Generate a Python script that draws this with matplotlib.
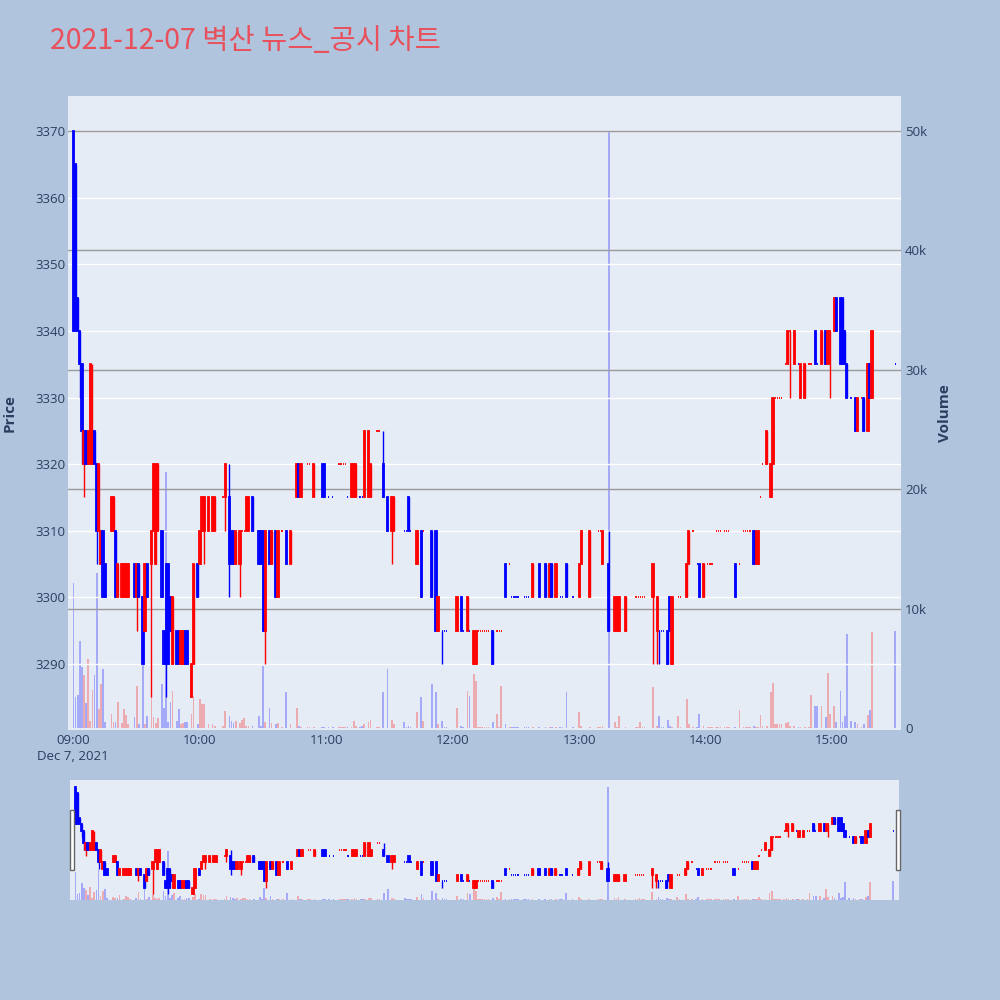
"""
Intraday 1-minute candle chart with volume and range slider
"""
import matplotlib
matplotlib.use("Agg")
import matplotlib.pyplot as plt
import matplotlib.transforms as mtransforms
from matplotlib.patches import Rectangle

################################################################################
# Data (minutes after 09:00, prices in KRW, volume in thousands)
################################################################################
minute = [
    0, 1, 2, 3, 4, 5, 6, 7, 8, 9, 10, 11, 12, 13, 14, 15, 18, 19, 20, 21,
    23, 24, 25, 26, 29, 30, 31, 33, 34, 35, 37, 38, 39, 40, 42, 43, 44, 45, 46, 47,
    49, 50, 51, 52, 53, 54, 56, 57, 59, 60, 61,
    62, 64, 66, 67, 71, 72, 74, 75, 76, 77, 79, 80, 81, 82, 83, 85, 88, 89, 90, 91,
    93, 94, 96, 97, 99, 101, 103, 106, 107, 108, 111, 112, 114, 118, 119, 121, 123, 126, 127,
    128, 129, 130, 132, 133, 134, 136, 137, 138, 140, 141, 144, 145, 147, 149, 151, 152, 157, 158, 159,
    160, 163, 165, 166, 170, 172, 173, 175, 176, 177, 182, 184, 185, 187, 188, 190, 191, 192, 193,
    194, 195, 196, 197, 199, 201, 202, 203, 205, 207, 208, 209, 210, 211, 214, 215, 216, 218, 221, 224,
    226, 227, 229, 231, 232, 234, 237, 240, 241, 245, 249, 250, 251, 254, 257, 258,
    259, 262, 267, 268, 269, 270, 271, 275, 277, 278, 279, 280, 282, 283, 284, 287, 288, 291, 292, 294,
    296, 297, 299, 301, 302, 303, 305, 306, 307, 309, 310, 311, 314, 316, 318, 319, 320, 321, 323,
    324, 325, 326, 327, 329, 331, 332, 333, 334, 335, 336, 338, 339, 340, 342, 344, 345, 347, 349, 350,
    352, 353, 355, 357, 358, 359, 361, 362, 364, 365, 366, 367, 369, 371, 372, 374, 375, 377, 378, 379,
    390]

open_ = [
    3370, 3365, 3345, 3340, 3335, 3320, 3325, 3320, 3320, 3320, 3325, 3320, 3310, 3305, 3310, 3305, 3310, 3310, 3310, 3300,
    3300, 3300, 3300, 3300, 3305, 3300, 3305, 3300, 3295, 3305, 3305, 3310, 3305, 3310, 3310, 3295, 3305, 3305, 3300, 3290,
    3295, 3295, 3290, 3290, 3295, 3295, 3285, 3290, 3305, 3305, 3310,
    3310, 3310, 3310, 3310, 3315, 3315, 3315, 3310, 3310, 3305, 3305, 3310, 3310, 3310, 3310, 3315, 3310, 3310, 3310, 3295,
    3310, 3305, 3310, 3300, 3310, 3310, 3305, 3315, 3320, 3315, 3320, 3320, 3315, 3320, 3320, 3315, 3315, 3320, 3320,
    3320, 3320, 3315, 3315, 3315, 3315, 3315, 3315, 3315, 3315, 3315, 3325, 3325, 3320, 3315, 3310, 3310, 3310, 3310, 3315,
    3310, 3305, 3310, 3310, 3310, 3310, 3295, 3295, 3295, 3295, 3295, 3300, 3295, 3295, 3295, 3290, 3290, 3295, 3295,
    3295, 3295, 3295, 3295, 3295, 3295, 3295, 3295, 3305, 3305, 3300, 3300, 3300, 3300, 3300, 3300, 3300, 3300, 3305, 3305,
    3300, 3305, 3300, 3300, 3300, 3305, 3300, 3300, 3305, 3300, 3310, 3310, 3305, 3305, 3295, 3295,
    3295, 3295, 3300, 3300, 3300, 3300, 3300, 3300, 3295, 3295, 3295, 3295, 3295, 3300, 3290, 3300, 3300, 3300, 3305, 3310,
    3305, 3305, 3300, 3305, 3305, 3305, 3310, 3310, 3310, 3310, 3310, 3310, 3305, 3305, 3310, 3310, 3310, 3310, 3310,
    3305, 3305, 3315, 3320, 3320, 3315, 3320, 3330, 3330, 3330, 3330, 3335, 3335, 3340, 3335, 3335, 3330, 3330, 3335, 3335,
    3340, 3335, 3335, 3340, 3335, 3340, 3340, 3345, 3345, 3345, 3340, 3335, 3330, 3330, 3325, 3330, 3330, 3325, 3335, 3330,
    3335]

high = [
    3370, 3365, 3345, 3340, 3335, 3325, 3325, 3325, 3335, 3335, 3325, 3320, 3320, 3310, 3310, 3305, 3315, 3315, 3310, 3305,
    3305, 3305, 3305, 3305, 3305, 3305, 3305, 3300, 3305, 3305, 3310, 3320, 3320, 3320, 3310, 3295, 3305, 3305, 3300, 3300,
    3295, 3295, 3295, 3295, 3295, 3295, 3290, 3305, 3305, 3310, 3315,
    3315, 3315, 3315, 3315, 3315, 3320, 3320, 3310, 3310, 3310, 3310, 3310, 3310, 3315, 3315, 3315, 3310, 3310, 3310, 3310,
    3310, 3310, 3310, 3310, 3310, 3310, 3310, 3320, 3320, 3320, 3320, 3320, 3320, 3320, 3320, 3315, 3315, 3320, 3320,
    3320, 3320, 3315, 3320, 3320, 3320, 3315, 3315, 3325, 3325, 3320, 3325, 3325, 3325, 3315, 3315, 3315, 3310, 3310, 3315,
    3310, 3310, 3310, 3310, 3310, 3310, 3300, 3295, 3295, 3295, 3300, 3300, 3295, 3300, 3295, 3295, 3295, 3295, 3295,
    3295, 3295, 3295, 3295, 3295, 3295, 3295, 3295, 3305, 3305, 3300, 3300, 3300, 3300, 3300, 3300, 3300, 3305, 3305, 3305,
    3305, 3305, 3305, 3300, 3300, 3305, 3300, 3305, 3310, 3310, 3310, 3310, 3310, 3310, 3300, 3300,
    3300, 3300, 3300, 3300, 3300, 3300, 3300, 3305, 3300, 3295, 3295, 3295, 3295, 3300, 3300, 3300, 3300, 3305, 3310, 3310,
    3305, 3305, 3305, 3305, 3305, 3305, 3310, 3310, 3310, 3310, 3310, 3310, 3305, 3305, 3310, 3310, 3310, 3310, 3310,
    3310, 3310, 3315, 3320, 3325, 3320, 3330, 3330, 3330, 3330, 3330, 3335, 3340, 3340, 3340, 3335, 3335, 3335, 3335, 3335,
    3340, 3335, 3340, 3340, 3340, 3340, 3345, 3345, 3345, 3345, 3340, 3335, 3330, 3330, 3330, 3330, 3330, 3335, 3335, 3340,
    3335]

low = [
    3340, 3340, 3340, 3330, 3320, 3315, 3320, 3320, 3320, 3320, 3320, 3305, 3310, 3305, 3300, 3300, 3310, 3310, 3300, 3300,
    3300, 3300, 3300, 3300, 3300, 3295, 3300, 3290, 3295, 3300, 3285, 3310, 3305, 3310, 3300, 3290, 3285, 3290, 3295, 3290,
    3290, 3290, 3290, 3290, 3290, 3290, 3285, 3290, 3300, 3305, 3310,
    3305, 3310, 3310, 3310, 3315, 3310, 3300, 3305, 3305, 3305, 3300, 3310, 3310, 3310, 3310, 3310, 3305, 3305, 3295, 3290,
    3305, 3305, 3300, 3300, 3310, 3305, 3305, 3315, 3315, 3315, 3320, 3320, 3315, 3315, 3315, 3315, 3315, 3320, 3320,
    3320, 3320, 3315, 3315, 3315, 3315, 3315, 3315, 3315, 3315, 3315, 3325, 3325, 3315, 3310, 3305, 3310, 3310, 3310, 3310,
    3310, 3305, 3300, 3310, 3300, 3295, 3295, 3290, 3295, 3295, 3295, 3295, 3295, 3295, 3295, 3290, 3290, 3295, 3295,
    3295, 3295, 3295, 3295, 3290, 3295, 3295, 3295, 3300, 3305, 3300, 3300, 3300, 3300, 3300, 3300, 3300, 3300, 3300, 3300,
    3300, 3300, 3300, 3300, 3300, 3300, 3300, 3300, 3305, 3300, 3310, 3310, 3305, 3295, 3295, 3295,
    3295, 3295, 3300, 3300, 3300, 3300, 3300, 3290, 3290, 3290, 3295, 3295, 3290, 3295, 3290, 3300, 3300, 3300, 3305, 3310,
    3305, 3300, 3300, 3305, 3305, 3305, 3310, 3310, 3310, 3310, 3310, 3310, 3300, 3305, 3310, 3310, 3310, 3310, 3305,
    3305, 3305, 3315, 3320, 3320, 3315, 3320, 3330, 3330, 3330, 3330, 3335, 3335, 3330, 3335, 3335, 3330, 3330, 3335, 3335,
    3335, 3335, 3335, 3335, 3335, 3330, 3340, 3340, 3335, 3335, 3335, 3330, 3330, 3325, 3325, 3330, 3325, 3325, 3330, 3330,
    3335]

close = [
    3340, 3340, 3340, 3335, 3325, 3325, 3320, 3325, 3335, 3325, 3320, 3310, 3320, 3310, 3300, 3300, 3315, 3315, 3300, 3305,
    3305, 3305, 3305, 3305, 3300, 3305, 3300, 3290, 3305, 3300, 3310, 3320, 3320, 3320, 3300, 3290, 3290, 3290, 3295, 3300,
    3290, 3290, 3295, 3295, 3290, 3290, 3290, 3305, 3300, 3310, 3315,
    3315, 3315, 3315, 3315, 3315, 3320, 3305, 3305, 3305, 3310, 3310, 3310, 3310, 3315, 3315, 3310, 3305, 3305, 3295, 3310,
    3305, 3310, 3300, 3310, 3310, 3305, 3310, 3320, 3315, 3320, 3320, 3320, 3320, 3315, 3315, 3315, 3315, 3320, 3320,
    3320, 3320, 3315, 3320, 3320, 3320, 3315, 3315, 3325, 3325, 3320, 3325, 3325, 3315, 3310, 3315, 3315, 3310, 3310, 3310,
    3310, 3310, 3300, 3310, 3300, 3295, 3300, 3295, 3295, 3295, 3300, 3295, 3295, 3300, 3295, 3295, 3295, 3295, 3295,
    3295, 3295, 3295, 3295, 3290, 3295, 3295, 3295, 3300, 3305, 3300, 3300, 3300, 3300, 3300, 3300, 3300, 3305, 3300, 3300,
    3305, 3300, 3305, 3300, 3300, 3300, 3300, 3305, 3310, 3310, 3310, 3310, 3310, 3295, 3300, 3300,
    3300, 3300, 3300, 3300, 3300, 3300, 3300, 3305, 3300, 3295, 3295, 3295, 3290, 3295, 3300, 3300, 3300, 3305, 3310, 3310,
    3305, 3300, 3305, 3305, 3305, 3305, 3310, 3310, 3310, 3310, 3310, 3310, 3300, 3305, 3310, 3310, 3310, 3310, 3305,
    3310, 3310, 3315, 3320, 3325, 3320, 3330, 3330, 3330, 3330, 3330, 3335, 3340, 3340, 3340, 3335, 3335, 3335, 3335, 3335,
    3335, 3335, 3340, 3335, 3340, 3340, 3345, 3340, 3335, 3335, 3335, 3330, 3330, 3325, 3330, 3330, 3325, 3335, 3330, 3340,
    3335]

volume_k = [
    12.1, 2.6, 2.8, 7.3, 5.1, 4.4, 2.1, 5.8, 0.6, 3.2, 4.4, 13.0, 1.6, 3.7, 4.9, 0.5, 1.2, 0.5, 0.5, 2.2,
    0.4, 1.6, 1.1, 0.3, 0.9, 3.5, 0.3, 6.7, 0.3, 1.0, 2.7, 0.9, 0.4, 0.8, 3.7, 1.7, 21.4, 0.5, 2.2, 3.1,
    0.6, 1.6, 0.3, 0.4, 0.5, 0.5, 1.2, 2.7, 0.3, 2.4, 2.0,
    2.0, 0.3, 0.3, 0.2, 0.2, 1.4, 1.0, 0.6, 0.4, 0.6, 0.4, 0.7, 0.8, 0.2, 0.2, 0.2, 1.0, 0.2, 5.2, 0.5,
    1.7, 0.4, 0.3, 0.4, 0.1, 3.0, 0.3, 1.7, 0.2, 0.1, 0.1, 0.1, 0.1, 0.1, 0.1, 0.1, 0.1, 0.1, 0.1,
    0.1, 0.1, 0.1, 0.1, 0.6, 0.2, 0.1, 0.2, 0.3, 0.5, 0.7, 0.1, 0.1, 3.0, 4.9, 0.7, 0.3, 0.5, 0.1, 0.2,
    0.1, 1.3, 2.6, 0.6, 3.7, 3.0, 0.3, 0.6, 0.1, 0.1, 1.7, 0.2, 0.1, 3.1, 2.7, 4.5, 3.9, 0.1, 0.1,
    0.1, 0.1, 0.1, 0.1, 0.5, 1.2, 0.1, 3.5, 0.3, 0.1, 0.1, 0.1, 0.1, 0.1, 0.1, 0.1, 0.1, 0.1, 0.1, 0.1,
    0.1, 0.1, 0.1, 0.1, 0.1, 3.0, 0.1, 1.3, 0.2, 0.1, 0.1, 0.1, 0.2, 50.0, 0.5, 0.1,
    1.0, 0.1, 0.1, 0.1, 0.5, 0.1, 0.1, 3.4, 0.2, 1.0, 0.1, 0.1, 0.7, 0.2, 0.1, 1.0, 0.1, 2.4, 0.3, 0.1,
    0.1, 1.2, 0.2, 0.1, 0.1, 0.1, 0.1, 0.1, 0.1, 0.1, 0.1, 0.1, 0.1, 1.5, 0.1, 0.1, 0.1, 0.1, 0.2,
    0.1, 0.1, 1.1, 0.2, 0.2, 3.0, 3.8, 0.3, 0.3, 0.3, 0.3, 0.4, 0.5, 0.2, 0.2, 0.1, 0.1, 0.1, 0.1, 2.8,
    1.8, 1.8, 1.8, 0.9, 4.6, 1.2, 1.8, 0.5, 3.1, 0.5, 1.0, 7.9, 0.6, 0.5, 0.3, 0.1, 0.3, 1.1, 1.5, 8.0,
    8.1]

hour_labels = ['09:00', '10:00', '11:00', '12:00', '13:00', '14:00', '15:00']
price_ticks = [3290, 3300, 3310, 3320, 3330, 3340, 3350, 3360, 3370]
volume_ticks = [0, 10000, 20000, 30000, 40000, 50000]
volume_tick_labels = ['0', '10k', '20k', '30k', '40k', '50k']

assert len(minute) == len(open_) == len(high) == len(low) == len(close) == len(volume_k)

################################################################################
# Styling
################################################################################
BG = '#B0C4DE'
PLOT_BG = '#E5ECF6'
TXT = '#2a3f5f'
UP = (1.0, 0.0, 0.0)
DOWN = (0.0, 0.0, 1.0)

plt.rcParams['font.family'] = ['Open Sans', 'Noto Sans CJK KR', 'DejaVu Sans']

XLIM = (-2.6, 392.7)
PLIM = (3280.1, 3375.25)
VLIM = (-170, 52930)

########################################
# Candle direction (flat candles follow previous close)
########################################
volume = [v * 1000 for v in volume_k]
direction = []
prev_c, prev_d = None, -1
for o, c in zip(open_, close):
    if c > o:
        d = 1
    elif c < o:
        d = -1
    elif prev_c is not None and c > prev_c:
        d = 1
    elif prev_c is not None and c < prev_c:
        d = -1
    else:
        d = prev_d
    direction.append(d)
    prev_c, prev_d = c, d

line_colors = [UP if d > 0 else DOWN for d in direction]
fill_colors = [(*col, 0.5) for col in line_colors]
vol_colors = [(*col, 0.28) for col in line_colors]
body = [c - o for o, c in zip(open_, close)]


def draw_chart(ax_p, ax_v):
    ax_v.bar(minute, volume, width=0.8, color=vol_colors, linewidth=0)
    ax_p.vlines(minute, low, high, colors=line_colors, linewidth=1.0, zorder=3)
    ax_p.bar(minute, body, bottom=open_, width=0.6, color=fill_colors,
             edgecolor=line_colors, linewidth=1.3, zorder=4)
    ax_p.set_xlim(*XLIM)
    ax_v.set_xlim(*XLIM)
    ax_p.set_ylim(*PLIM)
    ax_v.set_ylim(*VLIM)
    for ax in (ax_p, ax_v):
        for sp in ax.spines.values():
            sp.set_visible(False)


################################################################################
# Figure
################################################################################
fig = plt.figure(figsize=(10, 10), dpi=100, facecolor=BG)

########################################
# Main chart
########################################
rect = [0.068, 0.270, 0.833, 0.634]
ax_v = fig.add_axes(rect, facecolor=PLOT_BG)
ax_p = fig.add_axes(rect, facecolor='none', label='price')
ax_p.set_zorder(ax_v.get_zorder() + 1)

draw_chart(ax_p, ax_v)

# grid: white for price, gray for volume (drawn on the price axes, below candles)
for p in price_ticks:
    ax_p.axhline(p, color='white', linewidth=1.0, zorder=1)
vtrans = mtransforms.blended_transform_factory(ax_p.transAxes, ax_v.transData)
for v in volume_ticks[1:]:
    ax_p.plot([0, 1], [v, v], transform=vtrans, color='#9a9a9a', linewidth=1.0, zorder=2)

ax_p.set_yticks(price_ticks)
ax_p.set_yticklabels([str(p) for p in price_ticks])
ax_p.tick_params(axis='y', length=0, labelsize=9.5, labelcolor=TXT, pad=1.5)
ax_p.set_xticks(range(0, 361, 60))
ax_p.set_xticklabels(hour_labels)
ax_p.tick_params(axis='x', length=0, labelsize=9.5, labelcolor=TXT, pad=3)

ax_v.yaxis.tick_right()
ax_v.set_yticks(volume_ticks)
ax_v.set_yticklabels(volume_tick_labels)
ax_v.tick_params(axis='y', length=0, labelsize=9.5, labelcolor=TXT, pad=3)
ax_v.tick_params(axis='x', length=0, labelbottom=False)

fig.text(0.073, 0.243, 'Dec 7, 2021', fontsize=9.5, color=TXT, ha='center', va='center')
fig.text(0.010, 0.587, 'Price', fontsize=11, fontweight='bold', color=TXT,
         rotation=90, ha='center', va='center')
fig.text(0.945, 0.587, 'Volume', fontsize=11, fontweight='bold', color=TXT,
         rotation=90, ha='center', va='center')

########################################
# Range slider
########################################
srect = [0.070, 0.100, 0.829, 0.120]
ax_sv = fig.add_axes(srect, facecolor=PLOT_BG, label='slider_vol')
ax_sp = fig.add_axes(srect, facecolor='none', label='slider_price')
ax_sp.set_zorder(ax_sv.get_zorder() + 1)
draw_chart(ax_sp, ax_sv)
for ax in (ax_sp, ax_sv):
    ax.set_xticks([])
    ax.set_yticks([])

for hx in (0.0695, 0.8955):
    fig.patches.append(Rectangle((hx, 0.130), 0.004, 0.060, transform=fig.transFigure,
                                 facecolor='white', edgecolor='#666666', linewidth=1.0,
                                 zorder=10))

########################################
# Title
########################################
fig.text(0.050, 0.959, '2021-12-07 벽산 뉴스_공시 차트', fontsize=20.5, color='#E8505B',
         ha='left', va='center', family=['Noto Sans CJK KR', 'DejaVu Sans'])

fig.savefig('out.png', dpi=100, facecolor=BG)
